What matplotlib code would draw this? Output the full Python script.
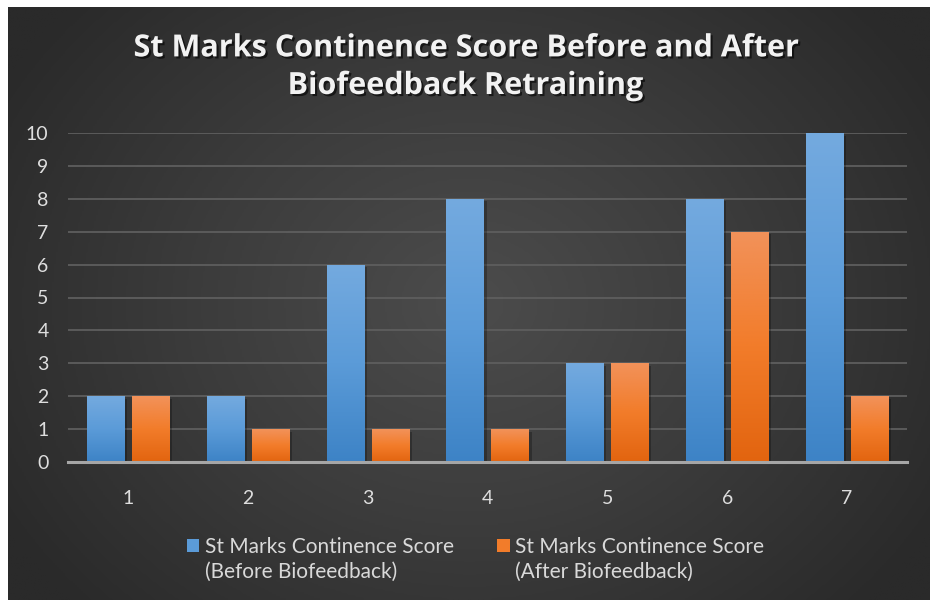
import numpy as np
import matplotlib
matplotlib.use("Agg")
import matplotlib.pyplot as plt
import matplotlib.patheffects as pe
from matplotlib.colors import LinearSegmentedColormap
from matplotlib.patches import Rectangle
from matplotlib.container import BarContainer
from matplotlib.legend_handler import HandlerPatch

# data
patients = ["1", "2", "3", "4", "5", "6", "7"]
before = [2, 2, 6, 8, 3, 8, 10]
after = [2, 1, 1, 1, 3, 7, 2]
label_before = "St Marks Continence Score\n(Before Biofeedback)"
label_after = "St Marks Continence Score\n(After Biofeedback)"
title = "St Marks Continence Score Before and After\nBiofeedback Retraining"

plt.rcParams['font.family'] = ['Lato', 'DejaVu Sans']

fig = plt.figure(figsize=(9.3, 6), dpi=100)
fig.patch.set_facecolor('white')

# dark radial background (thin white border top / left like the screenshot)
bg = fig.add_axes([8 / 930, 0, 1 - 8 / 930, 1 - 7 / 600])
bg.set_axis_off()
yy, xx = np.mgrid[-1:1:300j, -1:1:465j]
r = np.sqrt((xx * 0.9) ** 2 + (yy * 0.7) ** 2)
bg_cmap = LinearSegmentedColormap.from_list("bg", ["#4c4c4c", "#3c3c3c", "#2a2a2a"])
bg.imshow(r, cmap=bg_cmap, aspect='auto', extent=[0, 1, 0, 1], vmin=0, vmax=1.05)
bg.set_xlim(0, 1)
bg.set_ylim(0, 1)

ax = fig.add_axes([68 / 930, 138 / 600, (907 - 68) / 930, (462 - 133) / 600])
ax.set_facecolor('none')
x = np.arange(len(patients))
w = 0.31
off = 0.1875

blue_cmap = LinearSegmentedColormap.from_list("b", ["#3d83c6", "#5b9bd8", "#74aadf"])
orange_cmap = LinearSegmentedColormap.from_list("o", ["#e2640f", "#f27c2a", "#f2925a"])

def grad_bars(xpos, vals, cmap, label):
    # shadow
    ax.bar(xpos + 0.025, vals, w, bottom=-0.08, color='black', alpha=0.25, zorder=2)
    bars = ax.bar(xpos, vals, w, color=cmap(0.5), label=label, zorder=3)
    grad = np.linspace(0, 1, 256).reshape(-1, 1)
    for b in bars:
        x0, y0 = b.get_x(), b.get_y()
        im = ax.imshow(grad, cmap=cmap, origin='lower', aspect='auto',
                       extent=[x0, x0 + b.get_width(), y0, y0 + b.get_height()],
                       zorder=4)
        im.set_clip_path(b)
    return bars

grad_bars(x - off, before, blue_cmap, label_before)
grad_bars(x + off, after, orange_cmap, label_after)

ax.set_xlim(-0.5, len(patients) - 0.5)
ax.set_ylim(0, 10)
ax.set_yticks(range(0, 11))
ax.set_xticks(x)
ax.set_xticklabels(patients)
ax.yaxis.grid(True, color='#5e5e5e', linewidth=1.3, zorder=0)
ax.set_axisbelow(True)
for s in ['top', 'right', 'left']:
    ax.spines[s].set_visible(False)
ax.spines['bottom'].set_color('#a6a6a6')
ax.spines['bottom'].set_linewidth(2.2)
ax.spines['bottom'].set_zorder(5)
ax.tick_params(axis='both', length=0, colors='#dedede', labelsize=14)
ax.tick_params(axis='y', pad=14)
ax.tick_params(axis='x', pad=20)

fig.text(0.5, 0.888, title, ha='center', va='center', color='#f2f2f2',
         fontsize=22, fontweight='bold', linespacing=1.33,
         family=['Open Sans', 'DejaVu Sans'],
         path_effects=[pe.withSimplePatchShadow(offset=(1.5, -1.5), shadow_rgbFace='black', alpha=0.6)])


# legend squares sit next to the first line of the label
def top_square(legend, orig_handle, xdescent, ydescent, width, height, fontsize):
    return Rectangle((-xdescent, -ydescent + fontsize * 0.7), width, height)

def first_child(legend_handle, orig_handle):
    legend_handle.update_from(orig_handle.patches[0])

leg = ax.legend(loc='center', bbox_to_anchor=(0.4857, -0.297), ncol=2, frameon=False,
                prop={'size': 15}, labelcolor='#d9d9d9', handlelength=0.6, handleheight=0.6,
                handletextpad=0.25, columnspacing=2.1, borderaxespad=0,
                handler_map={BarContainer: HandlerPatch(patch_func=top_square,
                                                        update_func=first_child)})
for t in leg.get_texts():
    t.set_linespacing(1.3)

fig.savefig("out.png", dpi=100)
